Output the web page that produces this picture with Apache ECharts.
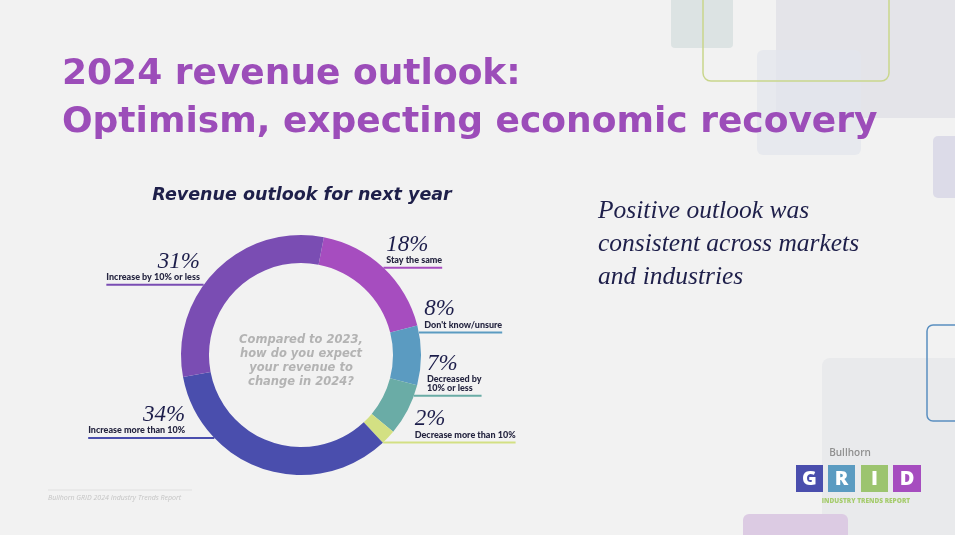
<!DOCTYPE html>
<html><head><meta charset="utf-8">
<script src="https://cdn.jsdelivr.net/npm/echarts@6/dist/echarts.min.js"></script>
<style>html,body{margin:0;padding:0;background:#f2f2f2}#c{width:955px;height:535px}</style>
</head><body><div id="c"></div><script>
// ---- data ----
const categories = ['Stay the same', "Don't know/unsure", 'Decreased by\n10% or less', 'Decrease more than 10%', 'Increase more than 10%', 'Increase by 10% or less'];
const values = [18, 8, 7, 2, 34, 31];
const titleLines = ['2024 revenue outlook:', 'Optimism, expecting economic recovery'];
const chartTitle = 'Revenue outlook for next year';
const centerQuestion = ['Compared to 2023,', 'how do you expect', 'your revenue to', 'change in 2024?'];
const sideNote = ['Positive outlook was', 'consistent across markets', 'and industries'];
const footer = 'Bullhorn GRID 2024 Industry Trends Report';

// ---- layout ----
const CX = 301, CY = 355, R_OUT = 120, R_IN = 92, START = 79;
const LINE_DY = [0, -23, -14, 5, -31, 15];
const total = values.reduce((a, b) => a + b, 0);
const midAngles = [];
(function () { let c = 0; values.forEach(v => { midAngles.push((90 - START) + (c + v / 2) / total * 360); c += v; }); })();

const chart = echarts.init(document.getElementById('c'));

function ringHalfWidth(y) {
  const d = y - CY;
  return Math.abs(d) >= R_OUT ? 0 : Math.sqrt(R_OUT * R_OUT - d * d);
}

const deco = [
  { type: 'rect', shape: { x: 776, y: -10, width: 200, height: 128, r: 8 }, style: { fill: '#e4e4e9' }, z: 0 },
  { type: 'rect', shape: { x: 671, y: -10, width: 62, height: 58, r: 4 }, style: { fill: '#dce3e3' }, z: 0 },
  { type: 'rect', shape: { x: 757, y: 50, width: 104, height: 105, r: 6 }, style: { fill: 'rgba(226,229,237,0.7)' }, z: 0 },
  { type: 'rect', shape: { x: 703, y: -10, width: 186, height: 91, r: 8 }, style: { fill: 'none', stroke: '#c9d68c', lineWidth: 1.5 }, z: 1 },
  { type: 'rect', shape: { x: 933, y: 136, width: 40, height: 62, r: 5 }, style: { fill: '#dcdbe8' }, z: 0 },
  { type: 'rect', shape: { x: 822, y: 358, width: 150, height: 200, r: 8 }, style: { fill: '#e9eaec' }, z: 0 },
  { type: 'rect', shape: { x: 927, y: 325, width: 60, height: 96, r: 6 }, style: { fill: 'none', stroke: '#5a8fc0', lineWidth: 1.5 }, z: 1 },
  { type: 'rect', shape: { x: 743, y: 514, width: 105, height: 40, r: 6 }, style: { fill: '#dccbe3' }, z: 0 },
  // GRID logo
  { type: 'text', x: 850, y: 453, style: { text: 'Bullhorn', font: '600 10px "Open Sans"', fill: '#8f8f8f', align: 'center', verticalAlign: 'middle' }, z: 2 },
  { type: 'rect', shape: { x: 796, y: 465, width: 27, height: 27 }, style: { fill: '#4a4ead' }, z: 2 },
  { type: 'rect', shape: { x: 828, y: 465, width: 27, height: 27 }, style: { fill: '#5b9bc1' }, z: 2 },
  { type: 'rect', shape: { x: 861, y: 465, width: 27, height: 27 }, style: { fill: '#9cc46f' }, z: 2 },
  { type: 'rect', shape: { x: 893, y: 465, width: 28, height: 27 }, style: { fill: '#a64dbf' }, z: 2 },
  { type: 'text', x: 809.5, y: 479, style: { text: 'G', font: '800 20px "Open Sans"', fill: '#fff', align: 'center', verticalAlign: 'middle' }, z: 3 },
  { type: 'text', x: 841.5, y: 479, style: { text: 'R', font: '800 20px "Open Sans"', fill: '#fff', align: 'center', verticalAlign: 'middle' }, z: 3 },
  { type: 'text', x: 874.5, y: 479, style: { text: 'I', font: '800 20px "Open Sans"', fill: '#fff', align: 'center', verticalAlign: 'middle' }, z: 3 },
  { type: 'text', x: 907, y: 479, style: { text: 'D', font: '800 20px "Open Sans"', fill: '#fff', align: 'center', verticalAlign: 'middle' }, z: 3 },
  { type: 'text', x: 866, y: 501, style: { text: 'INDUSTRY TRENDS REPORT', font: '800 6.5px "Open Sans"', fill: '#a6cc6e', align: 'center', verticalAlign: 'middle' }, z: 3 },
  // footer
  { type: 'line', shape: { x1: 48, y1: 490, x2: 192, y2: 490 }, style: { stroke: '#e0e0e0', lineWidth: 1 }, z: 1 },
  { type: 'text', x: 48, y: 498, style: { text: footer, font: 'italic 7px "Open Sans"', fill: '#c4c4c4', align: 'left', verticalAlign: 'middle' }, z: 1 },
  // title
  { type: 'text', x: 62, y: 75, style: { text: titleLines[0], font: 'bold 36px "DejaVu Sans"', fill: '#9c4db9', align: 'left', verticalAlign: 'middle' }, z: 5 },
  { type: 'text', x: 62, y: 123, style: { text: titleLines[1], font: 'bold 36px "DejaVu Sans"', fill: '#9c4db9', align: 'left', verticalAlign: 'middle' }, z: 5 },
  { type: 'text', x: 302, y: 195, style: { text: chartTitle, font: 'italic bold 17.5px "DejaVu Sans"', fill: '#1e1f4a', align: 'center', verticalAlign: 'middle' }, z: 5 },
  { type: 'text', x: 301, y: 361, style: { text: centerQuestion.join('\n'), font: 'italic bold 11.5px "DejaVu Sans"', lineHeight: 14, fill: '#b3b3b3', align: 'center', verticalAlign: 'middle' }, z: 5 }
];
sideNote.forEach((t, i) => deco.push({ type: 'text', x: 598, y: 211 + i * 33, style: { text: t, font: 'italic 25.5px "Liberation Serif"', fill: '#1e1f4a', align: 'left', verticalAlign: 'middle' }, z: 5 }));

chart.setOption({
  backgroundColor: '#f2f2f2',
  color: ['#a64dbf', '#5b9bc1', '#6aaca6', '#d3e083', '#4a4ead', '#7a4db3'],
  graphic: deco,
  series: [{
    type: 'pie',
    center: [CX, CY],
    radius: [R_IN, R_OUT],
    startAngle: START,
    clockwise: true,
    avoidLabelOverlap: false,
    silent: true,
    animation: false,
    itemStyle: { borderWidth: 0 },
    data: categories.map((c, i) => ({ name: c, value: values[i] })),
    label: {
      show: true,
      position: 'outer',
      formatter: p => '{pct|' + p.value + '%}\n' + p.name.split('\n').map(s => '{nm|' + s + '}').join('\n'),
      rich: {
        pct: { fontFamily: 'Liberation Serif', fontStyle: 'italic', fontSize: 23, color: '#1c1d4a', lineHeight: 22 },
        nm: { fontFamily: 'Lato', fontWeight: 900, fontSize: 9, color: '#252540', lineHeight: 9 }
      }
    },
    labelLine: { show: true, length: 0, length2: 10, lineStyle: { width: 2 } },
    labelLayout: function (p) {
      const i = p.dataIndex;
      const a = midAngles[i] * Math.PI / 180;
      const right = Math.sin(a) > 0;
      const yLine = CY - R_OUT * Math.cos(a) + LINE_DY[i];
      const h = p.labelRect.height, w = p.labelRect.width;
      const bottom = yLine - 3, top = bottom - h;
      const yc = Math.min(Math.max(CY, top), bottom);
      const ext = ringHalfWidth(yc);
      const xe = ringHalfWidth(yLine);
      const lx = right ? CX + ext + 6 : CX - ext - 6;
      const x0 = right ? CX + xe : CX - xe;
      const x1 = right ? lx + w : lx - w;
      return {
        x: lx, y: bottom, align: right ? 'left' : 'right', verticalAlign: 'bottom',
        labelLinePoints: [[x0, yLine], [x0, yLine], [x1, yLine]]
      };
    }
  }]
});
</script></body></html>
